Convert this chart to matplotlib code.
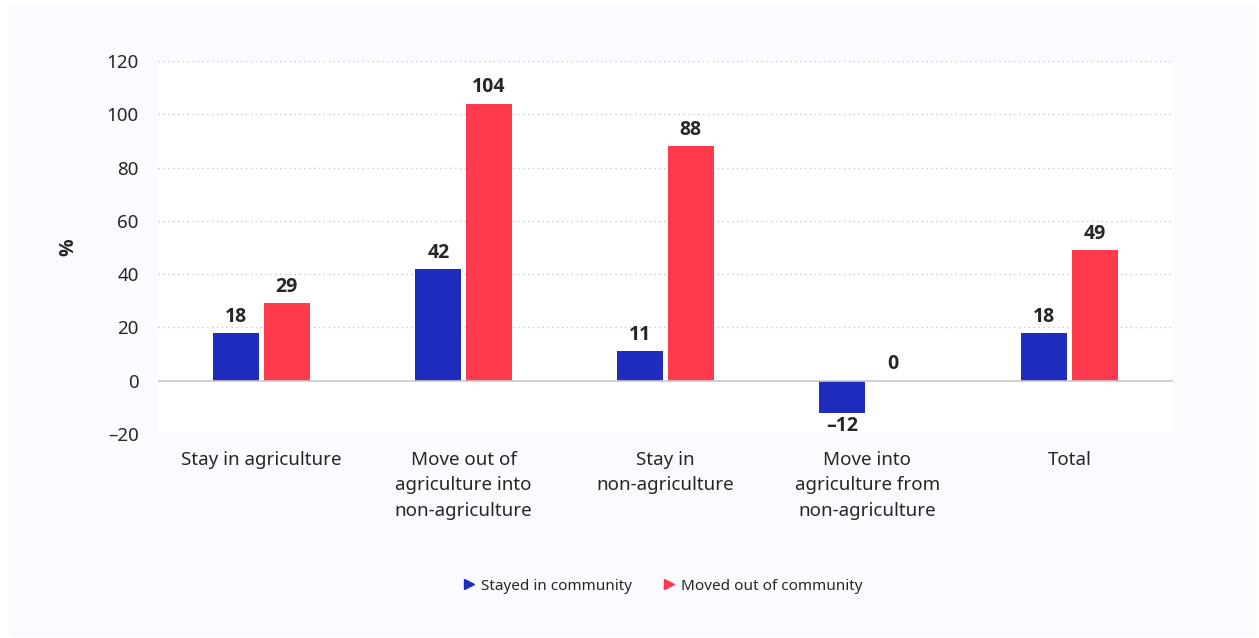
import matplotlib
matplotlib.use("Agg")
import matplotlib.pyplot as plt
from matplotlib.patches import Rectangle
from matplotlib.lines import Line2D
import numpy as np

categories = ["Stay in agriculture",
              "Move out of\nagriculture into\nnon-agriculture",
              "Stay in\nnon-agriculture",
              "Move into\nagriculture from\nnon-agriculture",
              "Total"]
stayed = [18, 42, 11, -12, 18]
moved = [29, 104, 88, 0, 49]
series_names = ["Stayed in community", "Moved out of community"]
yticks = [-20, 0, 20, 40, 60, 80, 100, 120]

BLUE = "#1F2DBE"
RED = "#FF3A4C"
TEXT = "#262626"
CARD = "#FAFBFE"
FS = 13.5
BOLD = dict(family=['Open Sans', 'DejaVu Sans'], fontweight="bold", fontsize=14, color=TEXT)

plt.rcParams['font.family'] = ['Noto Sans', 'DejaVu Sans']

fig = plt.figure(figsize=(12.59, 6.38), dpi=100)
fig.patch.set_facecolor("white")
fig.patches.append(Rectangle((9/1259, 1-637/638), (1257-9)/1259, (637-6)/638,
                             transform=fig.transFigure, facecolor=CARD,
                             edgecolor="none", zorder=-5))

ax = fig.add_axes([158/1259, 1-434/638, (1173-158)/1259, (434-61)/638])
ax.set_zorder(2)
ax.set_facecolor("white")

x = np.arange(len(categories))
w = 0.227
off = 0.125
ax.bar(x - off, stayed, w, color=BLUE, zorder=3)
ax.bar(x + off, moved, w, color=RED, zorder=3)

for xi, v in zip(x - off, stayed):
    if v >= 0:
        ax.annotate(f"{v}", (xi, v), xytext=(0, 4.5), textcoords="offset points",
                    ha="center", va="bottom", **BOLD)
    else:
        ax.annotate(f"\u2013{abs(v)}", (xi, v), xytext=(0, -2.5), textcoords="offset points",
                    ha="center", va="top", **BOLD)
for xi, v in zip(x + off, moved):
    ax.annotate(f"{v}", (xi, v), xytext=(0, 4.5), textcoords="offset points",
                ha="center", va="bottom", **BOLD)

pad = 0.0124
ax.set_xlim(-0.5 - pad, len(categories) - 0.5 + pad)
ax.set_ylim(-20, 120)
ax.set_yticks(yticks)
ax.set_yticklabels([f"\u2013{abs(t)}" if t < 0 else str(t) for t in yticks],
                   fontsize=FS, color=TEXT)
ax.set_xticks(x)
ax.set_xticklabels(categories, fontsize=FS, color=TEXT, linespacing=1.52, va="top")
ax.tick_params(axis="both", length=0)
ax.tick_params(axis="y", pad=14)
ax.tick_params(axis="x", pad=12.3)

for t in yticks:
    if t == 0:
        ax.axhline(0, color="#c8c8c8", lw=1.2, zorder=4)
    else:
        ax.axhline(t, color="#c8c8c8", lw=1, ls=(0, (1, 2.5)), zorder=1)
for s in ax.spines.values():
    s.set_visible(False)

ax.set_ylabel("%", labelpad=20, **BOLD)

handles = [Line2D([], [], marker=">", ls="none", color=BLUE, markersize=7),
           Line2D([], [], marker=">", ls="none", color=RED, markersize=7)]
fig.legend(handles, series_names, loc="center", bbox_to_anchor=(663/1259, 1-586/638),
           ncol=2, frameon=False, fontsize=11, handlelength=0.8, handletextpad=0.4,
           columnspacing=2.0, labelcolor=TEXT)

fig.savefig("out.png", dpi=100, facecolor=fig.get_facecolor())
